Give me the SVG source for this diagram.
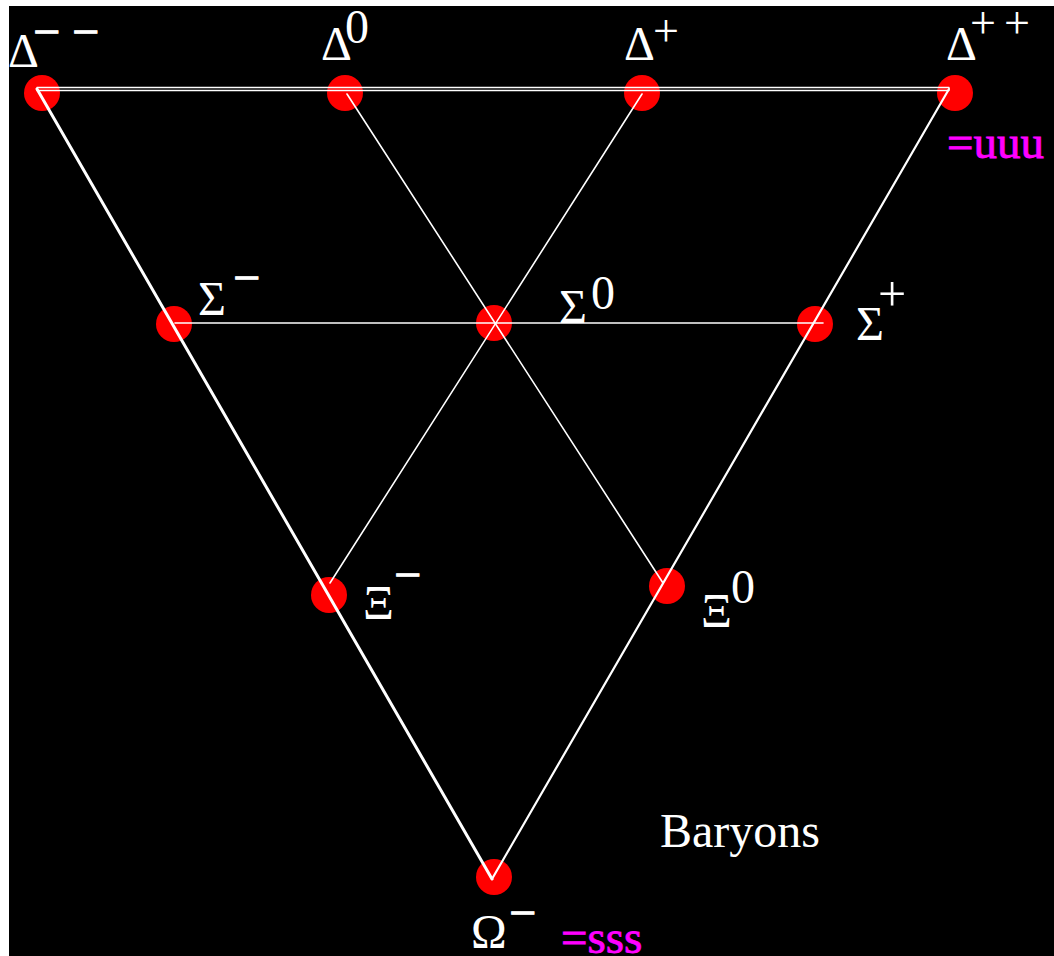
<svg xmlns="http://www.w3.org/2000/svg" width="1054" height="956" viewBox="0 0 1054 956">
<style>
.n{fill:#ff0000}
.t{font-family:"Liberation Serif","Times New Roman",serif;font-size:48px;fill:#ffffff}
.m{stroke:#ffffff;stroke-width:1}
.q{font-family:"Liberation Serif","Times New Roman",serif;font-size:47px;fill:#ff00ff;stroke:#ff00ff;stroke-width:0.8}
.c{stroke:#ffffff;fill:none;stroke-linecap:round}
</style>
<rect x="0" y="0" width="1054" height="956" fill="#ffffff"/>
<rect x="9" y="6" width="1045" height="950" fill="#000000"/>
<g id="delta-minus-minus"><circle class="n" cx="42" cy="93" r="18"/><text class="t" x="8" y="67">Δ</text><text class="t m" x="33" y="48">− −</text></g>
<g id="delta-zero"><circle class="n" cx="345" cy="93" r="18"/><text class="t" x="321" y="60">Δ</text><text class="t" x="345" y="43">0</text></g>
<g id="delta-plus"><circle class="n" cx="642" cy="93" r="18"/><text class="t" x="624" y="60">Δ</text><text class="t" x="653" y="46" style="font-size:46px">+</text></g>
<g id="delta-plus-plus"><circle class="n" cx="955" cy="93" r="18"/><text class="t" x="946" y="60">Δ</text><text class="t" x="970" y="38" style="font-size:46px;letter-spacing:8px">++</text><text class="q" x="947" y="158">=uuu</text></g>
<g id="sigma-minus"><circle class="n" cx="174" cy="324" r="18"/><text class="t" x="198" y="315">Σ</text><text class="t m" x="233" y="294">−</text></g>
<g id="sigma-zero"><circle class="n" cx="494" cy="323" r="18"/><text class="t" x="559" y="323">Σ</text><text class="t" x="591" y="309">0</text></g>
<g id="sigma-plus"><circle class="n" cx="815" cy="324" r="18"/><text class="t" x="856" y="340">Σ</text><text class="t" x="878" y="311" style="font-size:50px">+</text></g>
<g id="xi-minus"><circle class="n" cx="329" cy="595" r="18"/><text class="t" x="363" y="619">Ξ</text><text class="t m" x="394" y="591">−</text></g>
<g id="xi-zero"><circle class="n" cx="667" cy="586" r="18"/><text class="t" x="701" y="627">Ξ</text><text class="t" x="731" y="603">0</text></g>
<g id="omega-minus"><circle class="n" cx="494" cy="877" r="18"/><text class="t" x="471" y="948">Ω</text><text class="t m" x="509" y="929">−</text><text class="q" x="561" y="953">=sss</text></g>
<g id="title"><text class="t" x="660" y="847">Baryons</text></g>
<g id="connectors">
<line class="c" x1="37" y1="87.5" x2="949" y2="87.5" stroke-width="1.4"/>
<line class="c" x1="37" y1="90.5" x2="949" y2="90.5" stroke-width="1.4"/>
<line class="c" x1="37" y1="89" x2="492" y2="879" stroke-width="3"/>
<line class="c" x1="949" y1="89" x2="492" y2="879" stroke-width="2.2"/>
<line class="c" x1="347" y1="94" x2="663" y2="583" stroke-width="1.6"/>
<line class="c" x1="642" y1="94" x2="330" y2="583" stroke-width="1.6"/>
<line class="c" x1="175" y1="323" x2="823" y2="323" stroke-width="1.6"/>
</g>
</svg>
